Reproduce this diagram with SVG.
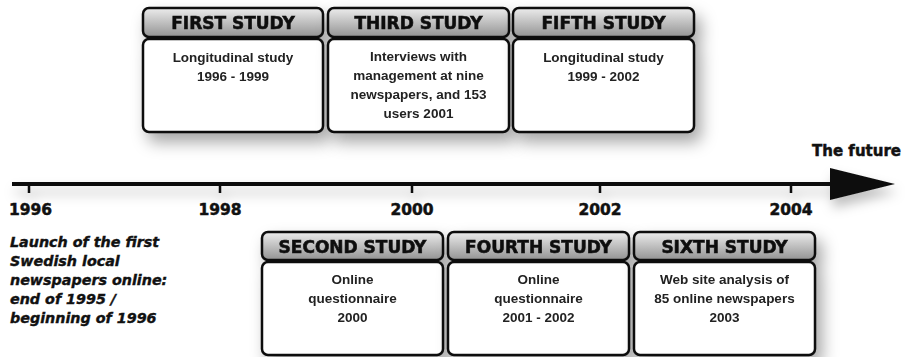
<svg xmlns="http://www.w3.org/2000/svg" width="905" height="357" viewBox="0 0 905 357">
<defs>
<linearGradient id="hg" x1="0" y1="0" x2="0" y2="1">
<stop offset="0" stop-color="#ececec"/>
<stop offset="1" stop-color="#939393"/>
</linearGradient>
<filter id="sh" x="-10%" y="-20%" width="130%" height="160%">
<feDropShadow dx="6" dy="9" stdDeviation="8" flood-color="#000" flood-opacity="0.35"/>
</filter>
<filter id="ash" x="-5%" y="-150%" width="110%" height="500%">
<feDropShadow dx="3" dy="8" stdDeviation="6" flood-color="#000" flood-opacity="0.25"/>
</filter>
</defs>
<style>
.hd{fill:url(#hg);stroke:#111;stroke-width:2.5}
.bd{fill:#fff;stroke:#111;stroke-width:2.5}
.ht{font-family:"DejaVu Sans",sans-serif;font-weight:bold;font-size:17px;fill:#111;stroke:#111;stroke-width:0.6;text-anchor:middle}
.bt{font-family:"Liberation Sans",Arial,sans-serif;font-weight:bold;font-size:13.5px;fill:#222;text-anchor:middle}
.yr{font-family:"DejaVu Sans",sans-serif;font-weight:bold;font-size:15.5px;fill:#111;stroke:#111;stroke-width:0.5;text-anchor:middle}
.it{font-family:"DejaVu Sans",sans-serif;font-weight:bold;font-style:italic;font-size:14.3px;fill:#111;stroke:#111;stroke-width:0.4}
.tk{stroke:#111;stroke-width:2.5}
</style>
<rect width="905" height="357" fill="#fff"/>
<g id="connectors" filter="url(#ash)">
<line x1="12" y1="184" x2="834" y2="184" stroke="#111" stroke-width="4"/>
<polygon points="830,168 895,184 830,200" fill="#111"/>
<line class="tk" x1="29" y1="184" x2="29" y2="193"/>
<line class="tk" x1="220" y1="184" x2="220" y2="193"/>
<line class="tk" x1="412" y1="184" x2="412" y2="193"/>
<line class="tk" x1="600" y1="184" x2="600" y2="193"/>
<line class="tk" x1="791" y1="184" x2="791" y2="193"/>
</g>
<g id="axis-labels">
<text class="yr" x="9" y="215" style="text-anchor:start">1996</text>
<text class="yr" x="220" y="215">1998</text>
<text class="yr" x="412" y="215">2000</text>
<text class="yr" x="600" y="215">2002</text>
<text class="yr" x="791" y="215">2004</text>
<text class="yr" x="901" y="156" style="text-anchor:end;font-size:15px">The future</text>
</g>
<g id="launch-note">
<text class="it" x="10" y="247">Launch of the first</text>
<text class="it" x="10" y="266">Swedish local</text>
<text class="it" x="10" y="285">newspapers online:</text>
<text class="it" x="10" y="304">end of 1995 /</text>
<text class="it" x="10" y="323">beginning of 1996</text>
</g>
<g id="first-study" filter="url(#sh)">
<rect class="bd" x="143" y="39" width="180" height="93" rx="6"/>
<rect class="hd" x="143" y="8" width="180" height="29" rx="6"/>
<text class="ht" x="233" y="28.5">FIRST STUDY</text>
<text class="bt" x="233" y="62">Longitudinal study</text>
<text class="bt" x="233" y="81">1996 - 1999</text>
</g>
<g id="third-study" filter="url(#sh)">
<rect class="bd" x="328" y="39" width="181" height="93" rx="6"/>
<rect class="hd" x="328" y="8" width="181" height="29" rx="6"/>
<text class="ht" x="418.5" y="28.5">THIRD STUDY</text>
<text class="bt" x="418.5" y="61">Interviews with</text>
<text class="bt" x="418.5" y="80">management at nine</text>
<text class="bt" x="418.5" y="99">newspapers, and 153</text>
<text class="bt" x="418.5" y="118">users 2001</text>
</g>
<g id="fifth-study" filter="url(#sh)">
<rect class="bd" x="513" y="39" width="181" height="93" rx="6"/>
<rect class="hd" x="513" y="8" width="181" height="29" rx="6"/>
<text class="ht" x="603.5" y="28.5">FIFTH STUDY</text>
<text class="bt" x="603.5" y="62">Longitudinal study</text>
<text class="bt" x="603.5" y="81">1999 - 2002</text>
</g>
<g id="second-study" filter="url(#sh)">
<rect class="bd" x="262" y="262" width="181" height="93" rx="6"/>
<rect class="hd" x="262" y="232" width="181" height="28" rx="6"/>
<text class="ht" x="352.5" y="252.5">SECOND STUDY</text>
<text class="bt" x="352.5" y="284">Online</text>
<text class="bt" x="352.5" y="303">questionnaire</text>
<text class="bt" x="352.5" y="322">2000</text>
</g>
<g id="fourth-study" filter="url(#sh)">
<rect class="bd" x="448" y="262" width="181" height="93" rx="6"/>
<rect class="hd" x="448" y="232" width="181" height="28" rx="6"/>
<text class="ht" x="538.5" y="252.5">FOURTH STUDY</text>
<text class="bt" x="538.5" y="284">Online</text>
<text class="bt" x="538.5" y="303">questionnaire</text>
<text class="bt" x="538.5" y="322">2001 - 2002</text>
</g>
<g id="sixth-study" filter="url(#sh)">
<rect class="bd" x="634" y="262" width="181" height="93" rx="6"/>
<rect class="hd" x="634" y="232" width="181" height="28" rx="6"/>
<text class="ht" x="724.5" y="252.5">SIXTH STUDY</text>
<text class="bt" x="724.5" y="284">Web site analysis of</text>
<text class="bt" x="724.5" y="303">85 online newspapers</text>
<text class="bt" x="724.5" y="322">2003</text>
</g>
</svg>
